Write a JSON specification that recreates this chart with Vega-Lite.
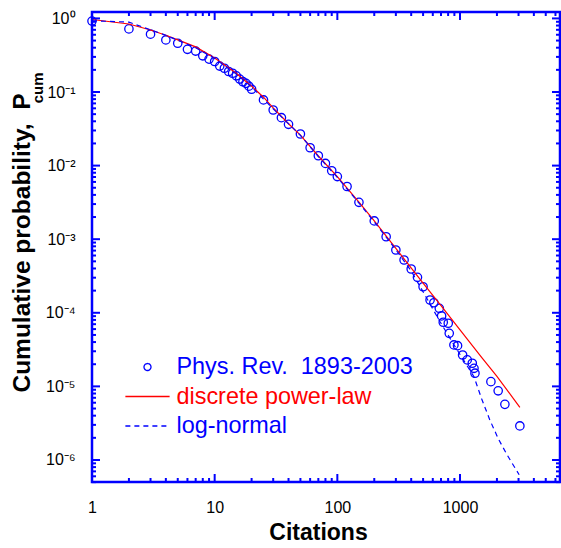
{
  "$schema": "https://vega.github.io/schema/vega-lite/v6.json",
  "width": 468,
  "height": 470,
  "autosize": "none",
  "padding": {"left": 92, "top": 12, "right": 1, "bottom": 66},
  "background": "white",
  "config": {"view": {"stroke": "#0000ff", "strokeWidth": 2.5, "fill": null}, "font": "Liberation Sans"},
  "datasets": {
    "xt": [{"v": 1},{"v": 2},{"v": 3},{"v": 4},{"v": 5},{"v": 6},{"v": 7},{"v": 8},{"v": 9},{"v": 10},{"v": 20},{"v": 30},{"v": 40},{"v": 50},{"v": 60},{"v": 70},{"v": 80},{"v": 90},{"v": 100},{"v": 200},{"v": 300},{"v": 400},{"v": 500},{"v": 600},{"v": 700},{"v": 800},{"v": 900},{"v": 1000},{"v": 2000},{"v": 3000},{"v": 4000},{"v": 5000},{"v": 6000}],
    "yt": [{"v": 5e-7},{"v": 6e-7},{"v": 7e-7},{"v": 8e-7},{"v": 9e-7},{"v": 1e-6},{"v": 2e-6},{"v": 3e-6},{"v": 4e-6},{"v": 5e-6},{"v": 6e-6},{"v": 7e-6},{"v": 8e-6},{"v": 9e-6},{"v": 1e-5},{"v": 2e-5},{"v": 3e-5},{"v": 4e-5},{"v": 5e-5},{"v": 6e-5},{"v": 7e-5},{"v": 8e-5},{"v": 9e-5},{"v": 1e-4},{"v": 2e-4},{"v": 3e-4},{"v": 4e-4},{"v": 5e-4},{"v": 6e-4},{"v": 7e-4},{"v": 8e-4},{"v": 9e-4},{"v": 0.001},{"v": 0.002},{"v": 0.003},{"v": 0.004},{"v": 0.005},{"v": 0.006},{"v": 0.007},{"v": 0.008},{"v": 0.009},{"v": 0.01},{"v": 0.02},{"v": 0.03},{"v": 0.04},{"v": 0.05},{"v": 0.06},{"v": 0.07},{"v": 0.08},{"v": 0.09},{"v": 0.1},{"v": 0.2},{"v": 0.3},{"v": 0.4},{"v": 0.5},{"v": 0.6},{"v": 0.7},{"v": 0.8},{"v": 0.9},{"v": 1}],
    "pts": [
      {"c": 1, "p": 0.92, "s": "Phys. Rev.\u00a0 1893-2003"},
      {"c": 2, "p": 0.72, "s": "Phys. Rev.\u00a0 1893-2003"},
      {"c": 3, "p": 0.61, "s": "Phys. Rev.\u00a0 1893-2003"},
      {"c": 4, "p": 0.51, "s": "Phys. Rev.\u00a0 1893-2003"},
      {"c": 5, "p": 0.46, "s": "Phys. Rev.\u00a0 1893-2003"},
      {"c": 6, "p": 0.38, "s": "Phys. Rev.\u00a0 1893-2003"},
      {"c": 7, "p": 0.36, "s": "Phys. Rev.\u00a0 1893-2003"},
      {"c": 8, "p": 0.31, "s": "Phys. Rev.\u00a0 1893-2003"},
      {"c": 9, "p": 0.28, "s": "Phys. Rev.\u00a0 1893-2003"},
      {"c": 10, "p": 0.26, "s": "Phys. Rev.\u00a0 1893-2003"},
      {"c": 11, "p": 0.225, "s": "Phys. Rev.\u00a0 1893-2003"},
      {"c": 12, "p": 0.21, "s": "Phys. Rev.\u00a0 1893-2003"},
      {"c": 13, "p": 0.19, "s": "Phys. Rev.\u00a0 1893-2003"},
      {"c": 14, "p": 0.18, "s": "Phys. Rev.\u00a0 1893-2003"},
      {"c": 15, "p": 0.166, "s": "Phys. Rev.\u00a0 1893-2003"},
      {"c": 16, "p": 0.15, "s": "Phys. Rev.\u00a0 1893-2003"},
      {"c": 17, "p": 0.138, "s": "Phys. Rev.\u00a0 1893-2003"},
      {"c": 18, "p": 0.131, "s": "Phys. Rev.\u00a0 1893-2003"},
      {"c": 19, "p": 0.12, "s": "Phys. Rev.\u00a0 1893-2003"},
      {"c": 20, "p": 0.109, "s": "Phys. Rev.\u00a0 1893-2003"},
      {"c": 25, "p": 0.078, "s": "Phys. Rev.\u00a0 1893-2003"},
      {"c": 30, "p": 0.057, "s": "Phys. Rev.\u00a0 1893-2003"},
      {"c": 35, "p": 0.0448, "s": "Phys. Rev.\u00a0 1893-2003"},
      {"c": 40, "p": 0.0364, "s": "Phys. Rev.\u00a0 1893-2003"},
      {"c": 50, "p": 0.0269, "s": "Phys. Rev.\u00a0 1893-2003"},
      {"c": 60, "p": 0.0175, "s": "Phys. Rev.\u00a0 1893-2003"},
      {"c": 70, "p": 0.0136, "s": "Phys. Rev.\u00a0 1893-2003"},
      {"c": 80, "p": 0.0107, "s": "Phys. Rev.\u00a0 1893-2003"},
      {"c": 90, "p": 0.0085, "s": "Phys. Rev.\u00a0 1893-2003"},
      {"c": 100, "p": 0.0071, "s": "Phys. Rev.\u00a0 1893-2003"},
      {"c": 120, "p": 0.0052, "s": "Phys. Rev.\u00a0 1893-2003"},
      {"c": 150, "p": 0.00317, "s": "Phys. Rev.\u00a0 1893-2003"},
      {"c": 200, "p": 0.00177, "s": "Phys. Rev.\u00a0 1893-2003"},
      {"c": 250, "p": 0.00108, "s": "Phys. Rev.\u00a0 1893-2003"},
      {"c": 300, "p": 0.000713, "s": "Phys. Rev.\u00a0 1893-2003"},
      {"c": 350, "p": 0.000521, "s": "Phys. Rev.\u00a0 1893-2003"},
      {"c": 400, "p": 0.000393, "s": "Phys. Rev.\u00a0 1893-2003"},
      {"c": 450, "p": 0.000303, "s": "Phys. Rev.\u00a0 1893-2003"},
      {"c": 500, "p": 0.000226, "s": "Phys. Rev.\u00a0 1893-2003"},
      {"c": 570, "p": 0.000149, "s": "Phys. Rev.\u00a0 1893-2003"},
      {"c": 612, "p": 0.000137, "s": "Phys. Rev.\u00a0 1893-2003"},
      {"c": 678, "p": 0.000115, "s": "Phys. Rev.\u00a0 1893-2003"},
      {"c": 708, "p": 0.0000906, "s": "Phys. Rev.\u00a0 1893-2003"},
      {"c": 730, "p": 0.0000743, "s": "Phys. Rev.\u00a0 1893-2003"},
      {"c": 802, "p": 0.000072, "s": "Phys. Rev.\u00a0 1893-2003"},
      {"c": 817, "p": 0.0000526, "s": "Phys. Rev.\u00a0 1893-2003"},
      {"c": 892, "p": 0.0000366, "s": "Phys. Rev.\u00a0 1893-2003"},
      {"c": 955, "p": 0.0000357, "s": "Phys. Rev.\u00a0 1893-2003"},
      {"c": 1050, "p": 0.0000267, "s": "Phys. Rev.\u00a0 1893-2003"},
      {"c": 1145, "p": 0.0000229, "s": "Phys. Rev.\u00a0 1893-2003"},
      {"c": 1259, "p": 0.0000206, "s": "Phys. Rev.\u00a0 1893-2003"},
      {"c": 1300, "p": 0.0000176, "s": "Phys. Rev.\u00a0 1893-2003"},
      {"c": 1324, "p": 0.0000151, "s": "Phys. Rev.\u00a0 1893-2003"},
      {"c": 1786, "p": 0.0000116, "s": "Phys. Rev.\u00a0 1893-2003"},
      {"c": 2047, "p": 0.0000087, "s": "Phys. Rev.\u00a0 1893-2003"},
      {"c": 2322, "p": 0.0000057, "s": "Phys. Rev.\u00a0 1893-2003"},
      {"c": 3076, "p": 0.0000029, "s": "Phys. Rev.\u00a0 1893-2003"}
    ],
    "pow": [
      {"c": 1, "p": 0.966, "s": "discrete power-law"},
      {"c": 2, "p": 0.84, "s": "discrete power-law"},
      {"c": 3, "p": 0.695, "s": "discrete power-law"},
      {"c": 4, "p": 0.59, "s": "discrete power-law"},
      {"c": 5, "p": 0.51, "s": "discrete power-law"},
      {"c": 7, "p": 0.41, "s": "discrete power-law"},
      {"c": 10, "p": 0.29, "s": "discrete power-law"},
      {"c": 15, "p": 0.18, "s": "discrete power-law"},
      {"c": 20, "p": 0.12, "s": "discrete power-law"},
      {"c": 25, "p": 0.085, "s": "discrete power-law"},
      {"c": 30, "p": 0.061, "s": "discrete power-law"},
      {"c": 40, "p": 0.037, "s": "discrete power-law"},
      {"c": 50, "p": 0.026, "s": "discrete power-law"},
      {"c": 70, "p": 0.0135, "s": "discrete power-law"},
      {"c": 100, "p": 0.0071, "s": "discrete power-law"},
      {"c": 150, "p": 0.0032, "s": "discrete power-law"},
      {"c": 200, "p": 0.00178, "s": "discrete power-law"},
      {"c": 300, "p": 0.00075, "s": "discrete power-law"},
      {"c": 500, "p": 0.000252, "s": "discrete power-law"},
      {"c": 700, "p": 0.000125, "s": "discrete power-law"},
      {"c": 1000, "p": 0.0000586, "s": "discrete power-law"},
      {"c": 1500, "p": 0.0000247, "s": "discrete power-law"},
      {"c": 2000, "p": 0.0000137, "s": "discrete power-law"},
      {"c": 3076, "p": 0.0000052, "s": "discrete power-law"}
    ],
    "logn": [
      {"c": 1, "p": 0.93, "s": "log-normal"},
      {"c": 2, "p": 0.89, "s": "log-normal"},
      {"c": 3, "p": 0.70, "s": "log-normal"},
      {"c": 4, "p": 0.59, "s": "log-normal"},
      {"c": 5, "p": 0.505, "s": "log-normal"},
      {"c": 7, "p": 0.40, "s": "log-normal"},
      {"c": 10, "p": 0.285, "s": "log-normal"},
      {"c": 15, "p": 0.175, "s": "log-normal"},
      {"c": 20, "p": 0.117, "s": "log-normal"},
      {"c": 30, "p": 0.059, "s": "log-normal"},
      {"c": 50, "p": 0.0258, "s": "log-normal"},
      {"c": 70, "p": 0.0133, "s": "log-normal"},
      {"c": 100, "p": 0.0069, "s": "log-normal"},
      {"c": 150, "p": 0.0031, "s": "log-normal"},
      {"c": 200, "p": 0.00172, "s": "log-normal"},
      {"c": 300, "p": 0.00072, "s": "log-normal"},
      {"c": 400, "p": 0.00037, "s": "log-normal"},
      {"c": 517, "p": 0.000175, "s": "log-normal"},
      {"c": 686, "p": 0.000076, "s": "log-normal"},
      {"c": 900, "p": 0.000036, "s": "log-normal"},
      {"c": 1132, "p": 0.0000195, "s": "log-normal"},
      {"c": 1300, "p": 0.0000135, "s": "log-normal"},
      {"c": 1500, "p": 0.0000068, "s": "log-normal"},
      {"c": 1750, "p": 0.0000035, "s": "log-normal"},
      {"c": 2050, "p": 0.00000195, "s": "log-normal"},
      {"c": 2400, "p": 0.0000012, "s": "log-normal"},
      {"c": 3035, "p": 0.00000063, "s": "log-normal"}
    ]
  },
  "layer": [
    {
      "data": {"name": "pts"},
      "mark": {"type": "point", "shape": "circle", "filled": false, "size": 70, "strokeWidth": 1.3, "opacity": 1},
      "encoding": {
        "x": {
          "field": "c", "type": "quantitative",
          "scale": {"type": "log", "domain": [1, 6533], "nice": false},
          "axis": {
            "orient": "bottom",
            "values": [1, 10, 100, 1000],
            "grid": false, "domain": false, "ticks": false, "tickSize": 0,
            "format": "d",
            "labelFont": "Liberation Sans", "labelFontSize": 16, "labelColor": "black",
            "labelPadding": 17, "labelOverlap": false, "labelFlush": false, "labelBound": false,
            "title": "Citations", "titleFont": "Liberation Sans", "titleFontSize": 23, "titleFontWeight": "bold", "titleColor": "black",
            "titleX": 226, "titleY": 57, "titleAlign": "center", "titleBaseline": "alphabetic", "titleAnchor": null
          }
        },
        "y": {
          "field": "p", "type": "quantitative",
          "scale": {"type": "log", "domain": [5.02e-7, 1.222], "nice": false},
          "axis": {
            "orient": "left",
            "values": [1e-6, 1e-5, 1e-4, 0.001, 0.01, 0.1, 1],
            "grid": false, "domain": false, "ticks": false, "tickSize": 0,
            "labelExpr": "['10\u2070','10\u207b\u00b9','10\u207b\u00b2','10\u207b\u00b3','10\u207b\u2074','10\u207b\u2075','10\u207b\u2076'][-round(log(datum.value)/LN10)]",
            "labelFont": "Liberation Sans", "labelFontSize": 16, "labelColor": "black",
            "labelPadding": 17, "labelOverlap": false, "labelFlush": false, "labelBound": false,
            "title": "Cumulative probability,\u00a0 P", "titleFont": "Liberation Sans", "titleFontSize": 24.5, "titleFontWeight": "bold", "titleColor": "black",
            "titleAngle": -90, "titleX": -63, "titleY": 81, "titleAlign": "right", "titleBaseline": "alphabetic", "titleAnchor": null
          }
        },
        "color": {
          "field": "s", "type": "nominal",
          "scale": {"domain": ["Phys. Rev.\u00a0 1893-2003", "discrete power-law", "log-normal"], "range": ["#0000ff", "#ff0000", "#0000ff"]},
          "legend": {
            "orient": "none", "legendX": 40, "legendY": 339.5, "title": null, "padding": 0,
            "symbolSize": 870, "symbolStrokeWidth": 1.3, "symbolFillColor": "transparent",
            "symbolType": {"expr": "datum.value === 'discrete power-law' || datum.value === 'log-normal' ? 'M-1.5,0H1.5' : 'M-0.237,0A0.237,0.237,0,1,1,0.237,0A0.237,0.237,0,1,1,-0.237,0Z'"},
            "symbolDash": {"expr": "datum.value === 'log-normal' ? [5, 4] : [1, 0]"},
            "labelColor": {"expr": "datum.value === 'discrete power-law' ? '#ff0000' : '#0000ff'"},
            "labelFont": "Liberation Sans", "labelFontSize": 23.4,
            "labelOffset": 13.5, "labelLimit": 400, "rowPadding": 2.5
          }
        }
      }
    },
    {
      "data": {"name": "pow"},
      "mark": {"type": "line", "strokeWidth": 1.2},
      "encoding": {
        "x": {"field": "c", "type": "quantitative", "axis": null},
        "y": {
          "field": "p", "type": "quantitative",
          "axis": {
            "orient": "right", "values": [1],
            "grid": false, "labels": false, "domain": false, "ticks": false,
            "title": "cum", "titleFont": "Liberation Sans", "titleFontSize": 15, "titleFontWeight": "bold", "titleColor": "black",
            "titleAngle": -90, "titleX": -518, "titleY": 60, "titleAlign": "right", "titleBaseline": "alphabetic", "titleAnchor": null
          }
        },
        "color": {"field": "s", "type": "nominal"}
      }
    },
    {
      "data": {"name": "logn"},
      "mark": {"type": "line", "strokeWidth": 1.2, "strokeDash": [5, 4]},
      "encoding": {
        "x": {"field": "c", "type": "quantitative", "axis": null},
        "y": {"field": "p", "type": "quantitative", "axis": null},
        "color": {"field": "s", "type": "nominal"}
      }
    },
    {
      "data": {"name": "xt"},
      "transform": [{"filter": "abs(log(datum.v)/LN10 - round(log(datum.v)/LN10)) < 1e-6"}],
      "mark": {"type": "tick", "orient": "vertical", "size": 8, "thickness": 2, "color": "#0000ff", "opacity": 1, "yOffset": -4},
      "encoding": {
        "x": {"field": "v", "type": "quantitative", "axis": null},
        "y": {"datum": 5.02e-7, "type": "quantitative", "axis": null}
      }
    },
    {
      "data": {"name": "xt"},
      "transform": [{"filter": "abs(log(datum.v)/LN10 - round(log(datum.v)/LN10)) >= 1e-6"}],
      "mark": {"type": "tick", "orient": "vertical", "size": 4, "thickness": 2, "color": "#0000ff", "opacity": 1, "yOffset": -2},
      "encoding": {
        "x": {"field": "v", "type": "quantitative", "axis": null},
        "y": {"datum": 5.02e-7, "type": "quantitative", "axis": null}
      }
    },
    {
      "data": {"name": "xt"},
      "transform": [{"filter": "abs(log(datum.v)/LN10 - round(log(datum.v)/LN10)) < 1e-6"}],
      "mark": {"type": "tick", "orient": "vertical", "size": 8, "thickness": 2, "color": "#0000ff", "opacity": 1, "yOffset": 4},
      "encoding": {
        "x": {"field": "v", "type": "quantitative", "axis": null},
        "y": {"datum": 1.222, "type": "quantitative", "axis": null}
      }
    },
    {
      "data": {"name": "xt"},
      "transform": [{"filter": "abs(log(datum.v)/LN10 - round(log(datum.v)/LN10)) >= 1e-6"}],
      "mark": {"type": "tick", "orient": "vertical", "size": 4, "thickness": 2, "color": "#0000ff", "opacity": 1, "yOffset": 2},
      "encoding": {
        "x": {"field": "v", "type": "quantitative", "axis": null},
        "y": {"datum": 1.222, "type": "quantitative", "axis": null}
      }
    },
    {
      "data": {"name": "yt"},
      "transform": [{"filter": "abs(log(datum.v)/LN10 - round(log(datum.v)/LN10)) < 1e-6"}],
      "mark": {"type": "tick", "orient": "horizontal", "size": 8, "thickness": 2, "color": "#0000ff", "opacity": 1, "xOffset": 4},
      "encoding": {
        "y": {"field": "v", "type": "quantitative", "axis": null},
        "x": {"datum": 1, "type": "quantitative", "axis": null}
      }
    },
    {
      "data": {"name": "yt"},
      "transform": [{"filter": "abs(log(datum.v)/LN10 - round(log(datum.v)/LN10)) >= 1e-6"}],
      "mark": {"type": "tick", "orient": "horizontal", "size": 4, "thickness": 2, "color": "#0000ff", "opacity": 1, "xOffset": 2},
      "encoding": {
        "y": {"field": "v", "type": "quantitative", "axis": null},
        "x": {"datum": 1, "type": "quantitative", "axis": null}
      }
    },
    {
      "data": {"name": "yt"},
      "transform": [{"filter": "abs(log(datum.v)/LN10 - round(log(datum.v)/LN10)) < 1e-6"}],
      "mark": {"type": "tick", "orient": "horizontal", "size": 8, "thickness": 2, "color": "#0000ff", "opacity": 1, "xOffset": -4},
      "encoding": {
        "y": {"field": "v", "type": "quantitative", "axis": null},
        "x": {"datum": 6533, "type": "quantitative", "axis": null}
      }
    },
    {
      "data": {"name": "yt"},
      "transform": [{"filter": "abs(log(datum.v)/LN10 - round(log(datum.v)/LN10)) >= 1e-6"}],
      "mark": {"type": "tick", "orient": "horizontal", "size": 4, "thickness": 2, "color": "#0000ff", "opacity": 1, "xOffset": -2},
      "encoding": {
        "y": {"field": "v", "type": "quantitative", "axis": null},
        "x": {"datum": 6533, "type": "quantitative", "axis": null}
      }
    }
  ],
  "resolve": {"axis": {"x": "independent", "y": "independent"}}
}
